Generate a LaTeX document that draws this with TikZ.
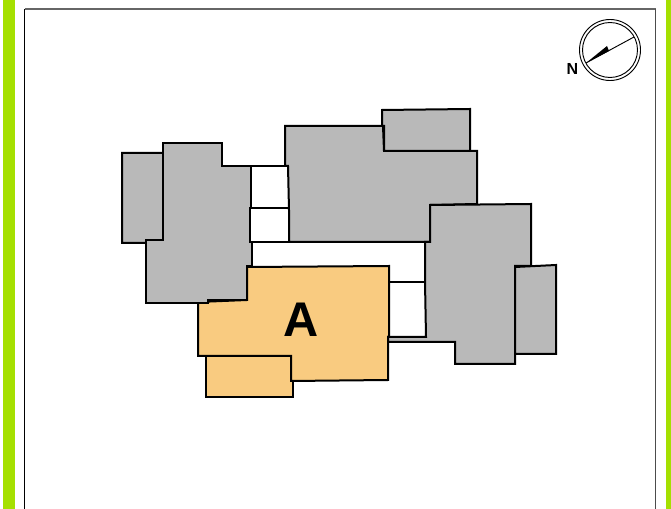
\documentclass[tikz,border=0pt]{standalone}
\usepackage{fontspec}
\setmainfont{Liberation Sans}
\usepackage{xcolor}
\definecolor{blockgrey}{HTML}{B9B9B9}
\definecolor{blockorange}{HTML}{F9CB80}
\definecolor{barlime}{HTML}{A5E000}
\tikzset{
  block/.style={draw=black, line width=1.5pt, fill=blockgrey, line join=miter},
  flat/.style={block, fill=blockorange},
  wall/.style={draw=black, line width=1.5pt},
  frameline/.style={draw=#1, line width=0.8pt}
}

\begin{document}
\begin{tikzpicture}[x=0.75pt, y=-0.75pt]
      \useasboundingbox (0, 0) rectangle (671, 509);
      \fill[barlime] (3, 0) rectangle (15, 509);
      \fill[barlime] (666, 0) rectangle (671, 509);

      \coordinate (frametl) at (24.5, 9);
      \coordinate (frametr) at (655.5, 9);
      \coordinate (framebl) at (24.5, 509);
      \coordinate (framebr) at (655.5, 509);
      \draw[frameline=black] (framebl) -- (frametl);
      \draw[frameline=black!60] (frametl) -- (frametr);
      \draw[frameline=black!70] (frametr) -- (framebr);

      % flat A
      \draw[flat] (247, 267) -- (389, 266) -- (389, 337) -- (388, 337) -- (388, 380) -- (291, 381)
        -- (291, 356) -- (198, 356) -- (198, 302) -- (247, 300) -- cycle;
      \draw[flat] (206, 356) -- (291, 356) -- (291, 381) -- (293, 381) -- (293, 397) -- (206, 397) -- cycle;
      \node[font=\bfseries, scale=1, text=black] (flatA) at (301, 319.5) {\fontsize{36.5}{36.5}\selectfont A};

      % open rooms
      \draw[wall] (251, 166) -- (288, 166);
      \draw[line width=1.2pt] (250, 208) -- (289, 208);
      \draw[wall] (252, 242) -- (425, 242);
      \draw[wall] (252, 242) -- (252, 267);
      \draw[wall] (389, 282) -- (425, 282);

      % grey blocks
      \draw[block] (122, 153) -- (163, 153) -- (163, 240) -- (146, 243) -- (122, 243) -- cycle;
      \draw[block] (163, 143) -- (222, 143) -- (222, 166) -- (251, 166) -- (251, 208) -- (250, 208)
        -- (250, 242) -- (252, 242) -- (252, 266) -- (247, 266) -- (247, 300) -- (208, 300)
        -- (208, 303) -- (146, 303) -- (146, 240) -- (163, 240) -- cycle;
      \draw[block] (285, 126) -- (383, 126) -- (384, 151) -- (477, 151) -- (477, 204) -- (430, 205)
        -- (430, 242) -- (289, 242) -- (289, 210) -- (288, 166) -- (285, 166) -- cycle;
      \draw[block] (382, 110) -- (470, 109) -- (470, 151) -- (384, 151) -- (384, 126) -- (382, 126) -- cycle;
      \draw[block] (430, 205) -- (531, 204) -- (531, 266) -- (515, 266) -- (515, 364) -- (455, 364)
        -- (455, 342) -- (388, 342) -- (388, 337) -- (426, 337) -- (425, 282) -- (425, 242)
        -- (430, 242) -- cycle;
      \draw[block] (515, 267) -- (556, 265) -- (556, 354) -- (515, 354) -- cycle;

      % compass
      \coordinate (compass) at (610, 50);
      \coordinate (needletip) at (586, 63);
      \coordinate (needleend) at (634, 37);
      \coordinate (needleup) at (607, 46);
      \coordinate (needledown) at (609, 51);
      \draw[line width=0.7pt] (compass) circle (30.5);
      \draw[line width=0.7pt] (compass) circle (27.5);
      \draw[line width=0.7pt] (needletip) -- (needleend);
      \fill (needletip) -- (needleup) -- (needledown) -- cycle;
      \node[font=\bfseries\fontsize{12}{12}\selectfont] (north) at (572.5, 69.5) {N};
\end{tikzpicture}
\end{document}
